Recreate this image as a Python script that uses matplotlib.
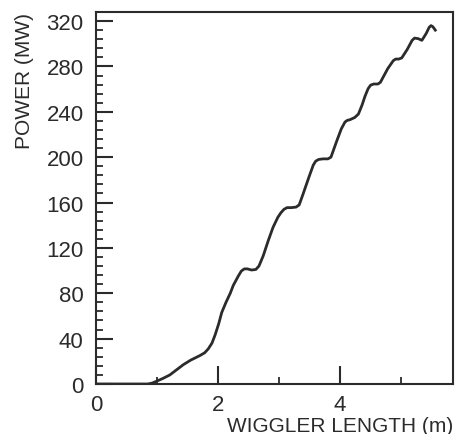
import matplotlib
matplotlib.use('Agg')
import matplotlib.pyplot as plt
from matplotlib.ticker import MultipleLocator

# wiggler length (m) vs power (MW)
length = [0.0, 0.85, 0.92, 1.0, 1.1, 1.21, 1.32, 1.43, 1.55, 1.70, 1.78, 1.84, 1.90, 1.95,
          2.01, 2.06, 2.13, 2.2, 2.25, 2.33, 2.38, 2.43, 2.48, 2.55, 2.62, 2.67, 2.74,
          2.82, 2.9, 2.98, 3.03, 3.08, 3.13, 3.2, 3.28, 3.33, 3.39, 3.48, 3.56, 3.60,
          3.65, 3.72, 3.80, 3.85, 3.95, 4.02, 4.08, 4.12, 4.16, 4.24, 4.30, 4.36,
          4.41, 4.46, 4.50, 4.55, 4.62, 4.66, 4.69, 4.78, 4.87, 4.91, 4.96, 5.01,
          5.1, 5.18, 5.22, 5.28, 5.34, 5.41, 5.46, 5.49, 5.52, 5.56]
power = [0.0, 0.0, 0.8, 2.6, 5.0, 8.0, 12.5, 17.0, 21.0, 25.0, 27.5, 31.0, 36.0, 43.0,
         53.0, 63.0, 72.0, 80.0, 87.0, 95.0, 99.5, 101.5, 101.5, 100.5, 101.0, 104.0, 113.0,
         126.0, 138.0, 147.0, 151.0, 154.0, 155.5, 155.5, 156.0, 158.0, 167.0, 181.0, 193.0, 196.5,
         198.0, 198.5, 198.5, 200.0, 215.0, 225.0, 231.0, 232.5, 233.0, 235.0, 238.0, 246.0,
         254.0, 260.5, 263.5, 264.5, 264.5, 266.0, 269.0, 278.0, 285.0, 286.5, 286.5, 287.5,
         295.0, 303.0, 305.0, 304.5, 303.0, 309.0, 314.5, 316.0, 315.0, 312.0]

plt.rcParams['font.family'] = ['Liberation Sans', 'DejaVu Sans']
ink = '#2b2b2b'

fig = plt.figure(figsize=(4.61, 4.35), dpi=100)
ax = fig.add_axes([96 / 461, 50 / 435, 357 / 461, 372 / 435])

ax.plot(length, power, color=ink, lw=2.0, solid_joinstyle='round')

ax.set_xlim(0, 5.85)
ax.set_ylim(0, 328)
ax.xaxis.set_major_locator(MultipleLocator(2))
ax.xaxis.set_minor_locator(MultipleLocator(1))
ax.yaxis.set_major_locator(MultipleLocator(40))
ax.yaxis.set_minor_locator(MultipleLocator(8))

ax.tick_params(which='both', direction='in', color=ink, labelcolor=ink, labelsize=16)
ax.tick_params(axis='y', which='major', length=12, width=1.5, pad=9)
ax.tick_params(axis='y', which='minor', length=5, width=1.3)
ax.tick_params(axis='x', which='major', length=13, width=1.5, pad=7)
ax.tick_params(axis='x', which='minor', length=5, width=1.3)

for s in ax.spines.values():
    s.set_color(ink)
    s.set_linewidth(1.5)

ax.set_ylabel('POWER (MW)', loc='top', fontsize=15, color=ink, labelpad=9)
ax.set_xlabel('WIGGLER LENGTH (m)', loc='right', fontsize=15, color=ink, labelpad=1)

plt.savefig('out.png', dpi=100)
